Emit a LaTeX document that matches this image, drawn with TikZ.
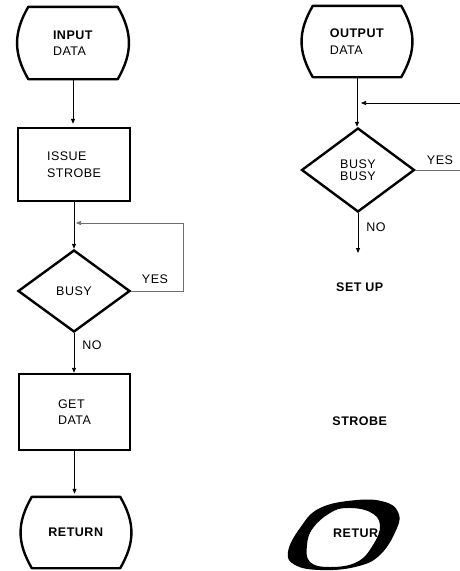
\documentclass[tikz,border=0pt]{standalone}
\usepackage{fontspec}
\usepackage{tikz}
\usetikzlibrary{arrows.meta, calc, positioning, shapes.geometric}
\newfontfamily\chartfont{Liberation Sans}[LetterSpace=4]
\definecolor{feedgray}{RGB}{110,110,110}

% outline of a terminal box, drawn round a named node
\newcommand{\termoutline}[1]{%
  \draw[shapeline] ($(#1.north west)+(11,0)$) -- ($(#1.north east)+(-11,0)$)
    .. controls ($(#1.north east)+(4,26)$) and ($(#1.south east)+(4,-26)$) .. ($(#1.south east)+(-11,0)$)
    -- ($(#1.south west)+(11,0)$)
    .. controls ($(#1.south west)+(-4,-26)$) and ($(#1.north west)+(-4,26)$) .. cycle;}

\begin{document}
\begin{tikzpicture}[x=1pt, y=-1pt,
    font=\chartfont\fontsize{12.5}{16.5}\selectfont,
    shapeline/.style={line width=2.4pt, line join=round},
    terminal/.style={rectangle, align=left, inner sep=0pt},
    process/.style={rectangle, draw, line width=2.4pt, align=left, inner sep=0pt},
    decision/.style={diamond, draw, line width=2.4pt, inner sep=0pt, align=center},
    flow/.style={-{Triangle[length=5pt, width=4pt]}, line width=0.8pt},
    feedback/.style={line width=0.6pt, feedgray}]
    \useasboundingbox (0,0) rectangle (460,571);

    % Left flowchart
    \node[terminal, minimum width=111, minimum height=72] (input) at (73,43) {\textbf{INPUT}\\DATA};
    \termoutline{input}
    \node[process, minimum width=112, minimum height=73] (strobe) at (74,164.5) {ISSUE\\STROBE};
    \node[decision, minimum width=112, minimum height=82] (busy) at (74,291) {BUSY};
    \node[process, minimum width=111, minimum height=76] (get) at (74.5,412) {GET\\DATA};
    \node[terminal, minimum width=110, minimum height=71] (ret) at (76,532.5) {\textbf{RETURN}};
    \termoutline{ret}

    \draw[flow, shorten >=3pt] (input.south) -- (input.south |- strobe.north);
    \draw[flow] (strobe.south) -- (strobe.south |- busy.north);
    \draw[flow] (busy.south) -- (busy.south |- get.north);
    \draw[flow, shorten >=3pt] (get.south) -- (get.south |- ret.north);

    % Busy loop
    \coordinate (loopin) at (74,223);
    \draw[feedback, -{Triangle[length=5pt, width=4pt]}, shorten >=2pt] (busy.east) -- ++(52,0) |- (loopin);
    \node (yes) at (155,279) {YES};
    \node (no) at (92,345) {NO};

    % Right flowchart
    \node[terminal, minimum width=110, minimum height=71] (output) at (357,41.5) {\textbf{OUTPUT}\\DATA};
    \termoutline{output}
    \node[decision, minimum width=113, minimum height=84] (busytwo) at (358,170) {BUSY\\[-4pt]BUSY};
    \draw[flow] (output.south) -- (output.south |- busytwo.north);

    \coordinate (rin) at (460,103);
    \coordinate (rjoin) at (359,103);
    \draw[flow, line width=0.6pt, shorten >=2pt] (rin) -- (rjoin);
    \coordinate (yesout) at (460,170);
    \draw[feedback] (busytwo.east) -- (yesout);
    \coordinate (nodown) at (358,253);
    \draw[flow] (busytwo.south) -- (nodown);
    \node (yestwo) at (440,160) {YES};
    \node (notwo) at (376,227) {NO};

    \node (setup) at (360,287) {\textbf{SET UP}};
    \node (strobetwo) at (360,421) {\textbf{STROBE}};

    % Big slanted O round the cut-off return
    \fill[black, even odd rule]
      plot[smooth cycle, tension=0.7] coordinates {(288,552) (300,528) (320,508) (357,500) (385,502) (398,512)
        (397,528) (380,555) (355,567) (320,570) (295,565)}
      plot[smooth cycle, tension=0.7] coordinates {(307,545) (313,528) (330,513) (347,508) (370,512) (380,525)
        (373,545) (357,562) (330,567) (310,562)};
    \node (rettwo) at (356,533) {\textbf{RETUR}};
\end{tikzpicture}
\end{document}
